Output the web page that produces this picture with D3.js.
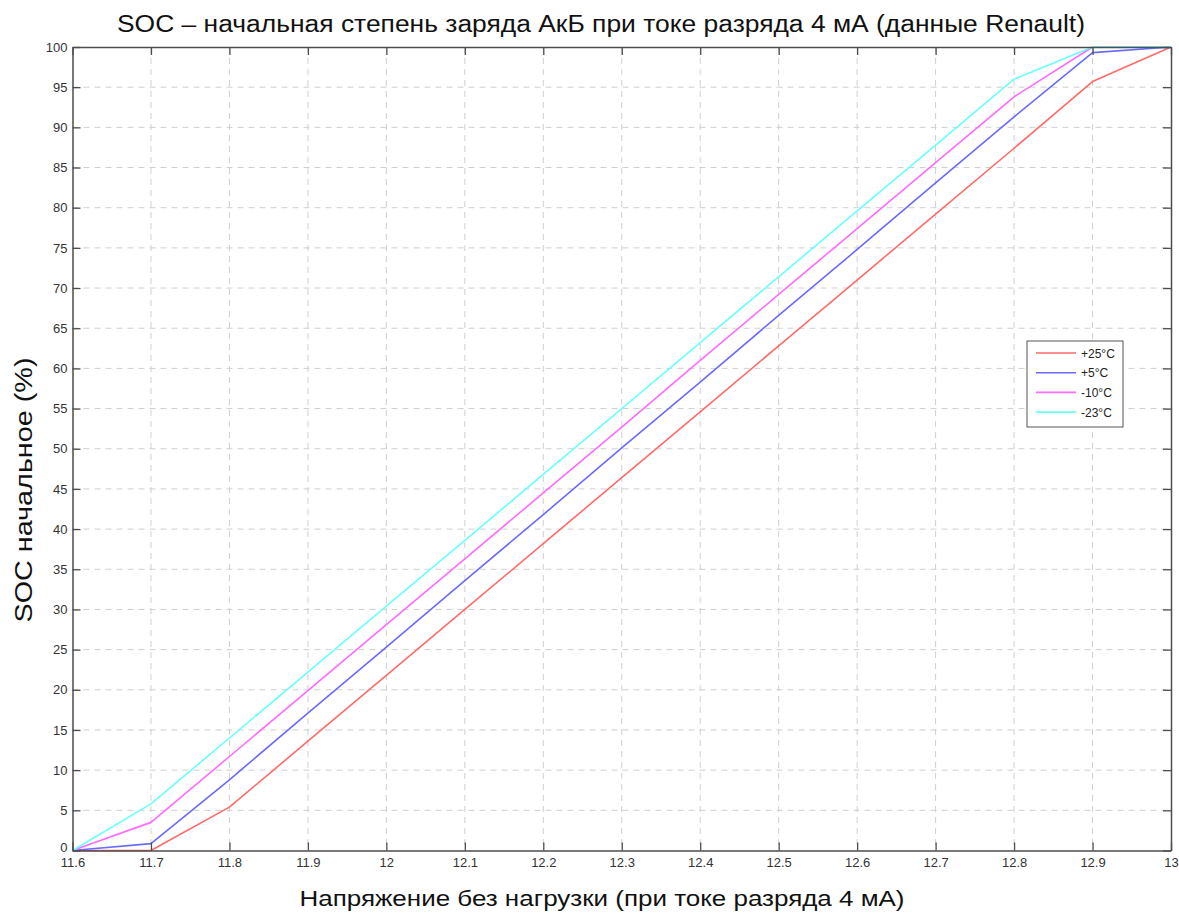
<!DOCTYPE html>
<html>
<head>
<meta charset="utf-8">
<script src="https://cdn.jsdelivr.net/npm/d3@7/dist/d3.min.js"></script>
<style>
  html, body { margin: 0; padding: 0; background: #fff; }
  svg { display: block; font-family: "Liberation Sans", Arial, sans-serif; }
</style>
</head>
<body>
<svg id="chart" width="1179" height="916"></svg>
<script>
// Open-circuit voltage, V
const voltage = [11.6, 11.7, 11.8, 11.9, 12.0, 12.1, 12.2, 12.3, 12.4, 12.5, 12.6, 12.7, 12.8, 12.9, 13.0];

// Initial state of charge, % — one series per temperature
const soc25  = [0, 0, 5.4, 13.6, 21.8, 30.0, 38.2, 46.4, 54.6, 62.8, 71.0, 79.2, 87.4, 95.7, 100];
const soc5   = [0, 0.85, 8.8, 17.1, 25.3, 33.6, 41.8, 50.1, 58.3, 66.6, 74.8, 83.1, 91.3, 99.3, 100];
const socM10 = [0, 3.5, 11.7, 19.9, 28.1, 36.3, 44.5, 52.7, 61.0, 69.2, 77.4, 85.6, 93.8, 100, 100];
const socM23 = [0, 5.8, 14.0, 22.2, 30.4, 38.6, 46.8, 55.0, 63.2, 71.4, 79.6, 87.8, 96.0, 100, 100];

const seriesNames = ["+25°C", "+5°C", "-10°C", "-23°C"];
const seriesColors = ["#ff6a6a", "#6a6aff", "#ff6aff", "#6affff"];
const seriesValues = [soc25, soc5, socM10, socM23];

const xTicks = [11.6, 11.7, 11.8, 11.9, 12.0, 12.1, 12.2, 12.3, 12.4, 12.5, 12.6, 12.7, 12.8, 12.9, 13];
const yTicks = d3.range(0, 101, 5);

const svg = d3.select("#chart");
const m = { left: 72.5, top: 47, right: 1171, bottom: 850.5 };

const x = d3.scaleLinear().domain([11.6, 13]).range([m.left, m.right]);
const y = d3.scaleLinear().domain([0, 100]).range([m.bottom, m.top]);

const axisColor = "#4d4d4d";

// dashed grid
const grid = svg.append("g");
grid.selectAll(".gx").data(xTicks.slice(1, -1)).join("line")
  .attr("x1", d => x(d)).attr("x2", d => x(d))
  .attr("y1", m.top).attr("y2", m.bottom)
  .attr("stroke", "#cfcfcf").attr("stroke-width", 1).attr("stroke-dasharray", "6,5");
grid.selectAll(".gy").data(yTicks.slice(1, -1)).join("line")
  .attr("y1", d => y(d)).attr("y2", d => y(d))
  .attr("x1", m.left).attr("x2", m.right)
  .attr("stroke", "#cfcfcf").attr("stroke-width", 1).attr("stroke-dasharray", "6,5");

// series
const line = d3.line().x((d, i) => x(voltage[i])).y(d => y(d));
svg.append("g").selectAll("path").data(seriesValues).join("path")
  .attr("d", d => line(d))
  .attr("fill", "none")
  .attr("stroke", (d, i) => seriesColors[i])
  .attr("stroke-width", 1.6)
  .attr("stroke-linejoin", "round");

// axes with inward ticks on all four sides
const tickLen = 8;
const fmtX = d => String(+d.toFixed(1));

const bottomAxis = svg.append("g").attr("transform", `translate(0,${m.bottom})`)
  .call(d3.axisBottom(x).tickValues(xTicks).tickSizeInner(-tickLen).tickSizeOuter(0).tickPadding(14).tickFormat(fmtX));
const topAxis = svg.append("g").attr("transform", `translate(0,${m.top})`)
  .call(d3.axisTop(x).tickValues(xTicks).tickSizeInner(-tickLen).tickSizeOuter(0).tickFormat(""));
const leftAxis = svg.append("g").attr("transform", `translate(${m.left},0)`)
  .call(d3.axisLeft(y).tickValues(yTicks).tickSizeInner(-tickLen).tickSizeOuter(0).tickPadding(14));
const rightAxis = svg.append("g").attr("transform", `translate(${m.right},0)`)
  .call(d3.axisRight(y).tickValues(yTicks).tickSizeInner(-tickLen).tickSizeOuter(0).tickFormat(""));

[bottomAxis, topAxis, leftAxis, rightAxis].forEach(g => {
  g.select(".domain").attr("stroke", axisColor).attr("stroke-width", 1.5);
  g.selectAll(".tick line").attr("stroke", axisColor).attr("stroke-width", 1.3);
  g.selectAll(".tick text").attr("fill", "#333").attr("font-size", 13)
    .attr("font-family", "'Liberation Sans', Arial, sans-serif");
});
leftAxis.selectAll(".tick text").attr("x", -5);
leftAxis.selectAll(".tick text").filter(d => d === 0).attr("dy", "0.1em");
bottomAxis.selectAll(".tick text").attr("y", 7);

// title and axis labels
svg.append("text")
  .attr("x", 601).attr("y", 32)
  .attr("text-anchor", "middle")
  .attr("font-size", 23)
  .attr("textLength", 968).attr("lengthAdjust", "spacingAndGlyphs")
  .attr("fill", "#111")
  .text("SOC – начальная степень заряда АкБ при токе разряда 4 мА (данные Renault)");

svg.append("text")
  .attr("x", 602).attr("y", 906)
  .attr("text-anchor", "middle")
  .attr("font-size", 22)
  .attr("textLength", 605).attr("lengthAdjust", "spacingAndGlyphs")
  .attr("fill", "#111")
  .text("Напряжение без нагрузки (при токе разряда 4 мА)");

svg.append("text")
  .attr("transform", "translate(32,490) rotate(-90)")
  .attr("text-anchor", "middle")
  .attr("font-size", 23)
  .attr("textLength", 265).attr("lengthAdjust", "spacingAndGlyphs")
  .attr("fill", "#111")
  .text("SOC начальное (%)");

// legend
const lg = svg.append("g").attr("transform", "translate(1027,341)");
lg.append("rect").attr("width", 96).attr("height", 86)
  .attr("fill", "#fff").attr("stroke", "#555").attr("stroke-width", 1);
const items = lg.selectAll(".item").data(seriesNames).join("g")
  .attr("transform", (d, i) => `translate(0,${12 + i * 19.7})`);
items.append("line").attr("x1", 9).attr("x2", 49)
  .attr("stroke", (d, i) => seriesColors[i]).attr("stroke-width", 1.6);
items.append("text").attr("x", 54).attr("y", 4.5)
  .attr("font-size", 12).attr("fill", "#222")
  .text(d => d);
</script>
</body>
</html>
